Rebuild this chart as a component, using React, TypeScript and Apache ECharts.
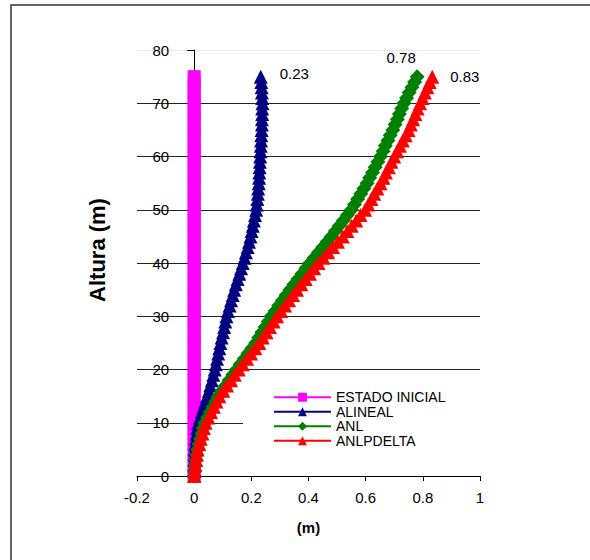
import React, { useEffect, useRef } from "react";
import * as echarts from "echarts";

const seriesNames = ["ESTADO INICIAL", "ALINEAL", "ANL", "ANLPDELTA"];
const xTicks = [-0.2, 0, 0.2, 0.4, 0.6, 0.8, 1];
const yTicks = [0, 10, 20, 30, 40, 50, 60, 70, 80];
const yAxisTitle = "Altura (m)";
const xAxisTitle = "(m)";

const heights = [
  0, 1, 2, 3, 4, 5, 6, 7, 8, 9, 10, 11, 12, 13, 14, 15, 16, 17, 18, 19,
  20, 21, 22, 23, 24, 25, 26, 27, 28, 29, 30, 31, 32, 33, 34, 35, 36, 37, 38, 39,
  40, 41, 42, 43, 44, 45, 46, 47, 48, 49, 50, 51, 52, 53, 54, 55, 56, 57, 58, 59,
  60, 61, 62, 63, 64, 65, 66, 67, 68, 69, 70, 71, 72, 73, 74, 75,
];

const estadoInicial = [
  0, 0, 0, 0, 0, 0, 0, 0, 0, 0, 0, 0, 0, 0, 0, 0, 0, 0, 0, 0,
  0, 0, 0, 0, 0, 0, 0, 0, 0, 0, 0, 0, 0, 0, 0, 0, 0, 0, 0, 0,
  0, 0, 0, 0, 0, 0, 0, 0, 0, 0, 0, 0, 0, 0, 0, 0, 0, 0, 0, 0,
  0, 0, 0, 0, 0, 0, 0, 0, 0, 0, 0, 0, 0, 0, 0, 0,
];

const alineal = [
  0.0, 0.0, 0.001, 0.001, 0.002, 0.002, 0.004, 0.006, 0.008, 0.011,
  0.014, 0.02, 0.026, 0.033, 0.039, 0.045, 0.051, 0.056, 0.062, 0.067,
  0.072, 0.076, 0.08, 0.084, 0.088, 0.092, 0.096, 0.101, 0.105, 0.109,
  0.113, 0.118, 0.124, 0.129, 0.135, 0.14, 0.146, 0.152, 0.158, 0.164,
  0.17, 0.176, 0.181, 0.187, 0.192, 0.197, 0.201, 0.205, 0.209, 0.213,
  0.217, 0.219, 0.221, 0.223, 0.224, 0.226, 0.227, 0.228, 0.229, 0.23,
  0.231, 0.232, 0.233, 0.234, 0.235, 0.236, 0.237, 0.237, 0.238, 0.238,
  0.239, 0.238, 0.237, 0.236, 0.235, 0.233,
];

const anl = [
  0.0, 0.002, 0.004, 0.007, 0.009, 0.012, 0.017, 0.022, 0.027, 0.032,
  0.038, 0.047, 0.056, 0.066, 0.075, 0.085, 0.097, 0.11, 0.122, 0.135,
  0.148, 0.161, 0.175, 0.188, 0.202, 0.215, 0.226, 0.237, 0.248, 0.259,
  0.27, 0.283, 0.296, 0.309, 0.322, 0.335, 0.349, 0.363, 0.377, 0.391,
  0.405, 0.42, 0.435, 0.45, 0.465, 0.48, 0.494, 0.508, 0.522, 0.536,
  0.55, 0.561, 0.572, 0.583, 0.594, 0.605, 0.614, 0.624, 0.633, 0.643,
  0.652, 0.661, 0.669, 0.678, 0.686, 0.695, 0.703, 0.711, 0.718, 0.726,
  0.734, 0.743, 0.752, 0.762, 0.771, 0.78,
];

const anlpdelta = [
  0.0, 0.002, 0.004, 0.007, 0.009, 0.012, 0.018, 0.023, 0.029, 0.034,
  0.04, 0.05, 0.059, 0.069, 0.078, 0.088, 0.102, 0.115, 0.129, 0.142,
  0.156, 0.17, 0.185, 0.199, 0.214, 0.228, 0.24, 0.253, 0.265, 0.278,
  0.29, 0.304, 0.318, 0.332, 0.346, 0.36, 0.375, 0.39, 0.405, 0.42,
  0.435, 0.452, 0.469, 0.486, 0.503, 0.52, 0.536, 0.551, 0.567, 0.582,
  0.598, 0.609, 0.62, 0.63, 0.641, 0.652, 0.662, 0.671, 0.681, 0.69,
  0.7, 0.71, 0.72, 0.73, 0.74, 0.75, 0.758, 0.766, 0.774, 0.782,
  0.79, 0.799, 0.807, 0.816, 0.824, 0.833,
];

const FONT = "'Liberation Sans', Arial, sans-serif";

// plot area geometry
const GRID_LEFT = 137;
const GRID_RIGHT_X = 480;
const PX_PER_UNIT = (GRID_RIGHT_X - GRID_LEFT) / (xTicks[xTicks.length - 1] - xTicks[0]);

function buildData(values: number[], endLabel: any) {
  const last = values.length - 1;
  return values.map((v, i) => {
    if (i === last && endLabel) {
      return {
        value: [v, heights[i]],
        label: {
          show: true,
          formatter: v.toFixed(2),
          fontFamily: FONT,
          fontSize: 15,
          color: "#000",
          ...endLabel,
        },
      };
    }
    return [v, heights[i]];
  });
}

export default function App() {
  const ref = useRef<HTMLDivElement>(null);

  useEffect(() => {
    if (!ref.current) return;
    const chart = echarts.init(ref.current, undefined, { renderer: "svg" });

    const mkSeries = (
      name: string,
      values: number[],
      color: string,
      symbol: string,
      symbolSize: number,
      endLabel: any
    ) => ({
      name,
      type: "line",
      data: buildData(values, endLabel),
      symbol,
      symbolSize,
      showSymbol: true,
      showAllSymbol: true,
      lineStyle: { color, width: 2 },
      itemStyle: { color, borderWidth: 0 },
      emphasis: { disabled: true },
      clip: false,
    });

    chart.setOption({
      animation: false,
      backgroundColor: "#fff",
      textStyle: { fontFamily: FONT },
      grid: { left: GRID_LEFT, right: 590 - GRID_RIGHT_X, top: 50, bottom: 84, containLabel: false },
      xAxis: {
        type: "value",
        min: xTicks[0],
        max: xTicks[xTicks.length - 1],
        interval: 0.2,
        name: xAxisTitle,
        nameLocation: "middle",
        nameGap: 44,
        nameTextStyle: { fontFamily: FONT, fontSize: 15, fontWeight: "bold", color: "#000" },
        axisLine: { show: true, onZero: false, lineStyle: { color: "#000", width: 1 } },
        axisTick: { show: true, length: 5, lineStyle: { color: "#000" } },
        axisLabel: {
          fontFamily: FONT,
          fontSize: 15,
          color: "#000",
          margin: 14,
          formatter: (v: number) => {
            const t = xTicks.find((x) => Math.abs(x - v) < 1e-9);
            return t === undefined ? "" : String(t);
          },
        },
        splitLine: { show: false },
      },
      yAxis: {
        type: "value",
        min: yTicks[0],
        max: yTicks[yTicks.length - 1],
        interval: 10,
        // place the vertical axis where x = 0 crosses it
        offset: -(0 - xTicks[0]) * PX_PER_UNIT,
        axisLine: { show: true, onZero: false, lineStyle: { color: "#000", width: 1 } },
        axisTick: { show: true, length: 7, lineStyle: { color: "#000" } },
        axisLabel: { fontFamily: FONT, fontSize: 15, color: "#000", margin: 25 },
        splitLine: {
          show: true,
          lineStyle: {
            color: ["#000", "#222", "#222", "#222", "#222", "#222", "#222", "#222", "#e6e6e6"],
            width: 1,
          },
        },
      },
      legend: {
        orient: "vertical",
        left: 243,
        top: 382,
        padding: [8, 38, 8, 30],
        backgroundColor: "#fff",
        itemWidth: 57,
        itemHeight: 11,
        itemGap: 0,
        selectedMode: false,
        textStyle: { fontFamily: FONT, fontSize: 14, color: "#000", lineHeight: 14.5 },
        data: seriesNames,
      },
      graphic: [
        {
          type: "rect",
          shape: { x: 11, y: 5, width: 700, height: 700 },
          style: { fill: "none", stroke: "#333", lineWidth: 1.5 },
          silent: true,
          z: 100,
        },
        {
          type: "text",
          x: 97,
          y: 250,
          rotation: Math.PI / 2,
          silent: true,
          style: {
            text: yAxisTitle,
            fontFamily: FONT,
            fontSize: 22,
            fontWeight: "bold",
            fill: "#000",
            align: "center",
            verticalAlign: "middle",
          },
        },
      ],
      series: [
        mkSeries(seriesNames[0], estadoInicial, "#FF00FF", "rect", 13, null),
        mkSeries(seriesNames[1], alineal, "#000080", "triangle", 14, {
          position: "right",
          distance: 12,
          offset: [0, -3],
        }),
        mkSeries(seriesNames[2], anl, "#008000", "diamond", 15, {
          position: "top",
          distance: 4,
          offset: [-16, 0],
        }),
        mkSeries(seriesNames[3], anlpdelta, "#FF0000", "triangle", 14, {
          position: "right",
          distance: 11,
        }),
      ],
    });

    return () => chart.dispose();
  }, []);

  return (
    <div
      ref={ref}
      style={{ position: "absolute", left: 0, top: 0, width: 590, height: 560 }}
    />
  );
}
